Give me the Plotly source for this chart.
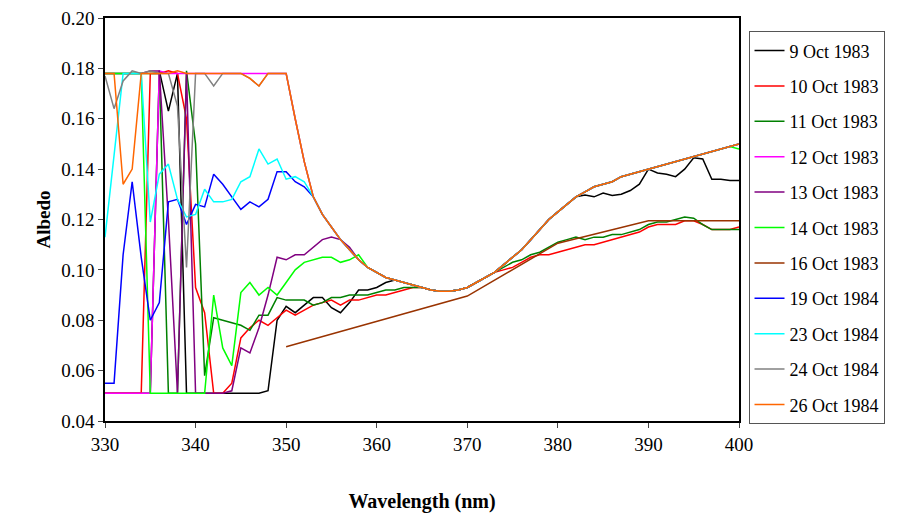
import plotly.graph_objects as go

wl = list(range(330, 401))

# shared curve 350-400 nm (clear-sky part, followed by most dates)
common = [0.178, 0.160, 0.143, 0.129, 0.122, 0.117, 0.112, 0.108, 0.104, 0.101,
          0.099, 0.097, 0.096, 0.095, 0.094, 0.093, 0.092, 0.0915, 0.0915, 0.092,
          0.093, 0.095, 0.097, 0.099, 0.102, 0.105, 0.108, 0.112, 0.116, 0.120,
          0.123, 0.126, 0.129, 0.131, 0.133, 0.134, 0.135, 0.137, 0.138, 0.139,
          0.140, 0.141, 0.142, 0.143, 0.144, 0.145, 0.146, 0.147, 0.148, 0.149, 0.150]

oct09 = ([0.051, 0.051, 0.051, 0.051, 0.051, 0.051, 0.179, 0.163, 0.178, 0.051,
          0.051, 0.051, 0.051, 0.051, 0.051, 0.051, 0.051, 0.051, 0.052, 0.080,
          0.0855, 0.083, 0.086, 0.089, 0.089, 0.085, 0.083, 0.087, 0.092, 0.092,
          0.093, 0.095, 0.096]
         + common[13:33]
         + [0.1297, 0.129, 0.1305, 0.1295, 0.130, 0.1315, 0.134, 0.140, 0.1385, 0.138,
            0.137, 0.140, 0.1445, 0.144, 0.136, 0.136, 0.1355, 0.1355])
oct10 = [0.051, 0.051, 0.051, 0.051, 0.051, 0.178, 0.178, 0.179, 0.178, 0.160,
         0.093, 0.083, 0.051, 0.051, 0.055, 0.073, 0.077, 0.080, 0.078, 0.081,
         0.084, 0.082, 0.084, 0.086, 0.087, 0.088, 0.086, 0.088, 0.088, 0.089,
         0.090, 0.090, 0.091, 0.092, 0.093, 0.093, 0.092, 0.0915, 0.0915, 0.092,
         0.093, 0.095, 0.097, 0.099, 0.100, 0.101, 0.103, 0.105, 0.106, 0.106,
         0.107, 0.108, 0.109, 0.110, 0.110, 0.111, 0.112, 0.113, 0.114, 0.115,
         0.117, 0.118, 0.118, 0.118, 0.1195, 0.1195, 0.118, 0.116, 0.116, 0.116, 0.117]
oct11 = [0.178, 0.178, 0.178, 0.178, 0.178, 0.178, 0.178, 0.051, 0.051, 0.179,
         0.150, 0.058, 0.081, 0.080, 0.079, 0.078, 0.076, 0.082, 0.082, 0.089,
         0.088, 0.088, 0.088, 0.086, 0.087, 0.089, 0.089, 0.090, 0.090, 0.090,
         0.091, 0.092, 0.092, 0.093, 0.093, 0.093, 0.092, 0.0915, 0.0915, 0.092,
         0.093, 0.095, 0.097, 0.099, 0.101, 0.103, 0.104, 0.106, 0.107, 0.109,
         0.111, 0.112, 0.113, 0.112, 0.113, 0.113, 0.114, 0.114, 0.115, 0.116,
         0.118, 0.119, 0.119, 0.120, 0.121, 0.1205, 0.118, 0.116, 0.116, 0.116, 0.116]
oct12 = ([0.051, 0.051, 0.051, 0.051, 0.051, 0.051, 0.179, 0.178, 0.178, 0.178,
          0.178, 0.178, 0.178, 0.178, 0.178, 0.178, 0.178, 0.178, 0.178, 0.178]
         + common)
oct13 = ([0.178, 0.178, 0.178, 0.178, 0.178, 0.179, 0.179, 0.120, 0.051, 0.178,
          0.051, 0.051, 0.051, 0.051, 0.052, 0.069, 0.067, 0.077, 0.090, 0.105,
          0.104, 0.106, 0.106, 0.109, 0.112, 0.113, 0.112, 0.109]
         + common[8:])
oct14 = ([0.178, 0.178, 0.178, 0.178, 0.178, 0.051, 0.051, 0.051, 0.051, 0.051,
          0.051, 0.051, 0.090, 0.069, 0.062, 0.091, 0.095, 0.090, 0.093, 0.090,
          0.095, 0.100, 0.103, 0.104, 0.105, 0.105, 0.103, 0.104, 0.106]
         + common[9:50] + [0.148])
oct16_wl = [350, 370, 380, 390, 400]
oct16 = [0.0695, 0.0896, 0.1106, 0.1195, 0.1195]
oct19 = ([0.055, 0.055, 0.106, 0.135, 0.105, 0.080, 0.087, 0.127, 0.128, 0.118,
          0.126, 0.125, 0.138, 0.134, 0.129, 0.124, 0.127, 0.125, 0.128, 0.139,
          0.139, 0.135, 0.133]
         + common[3:])
oct23 = ([0.113, 0.145, 0.178, 0.178, 0.178, 0.119, 0.138, 0.142, 0.128, 0.121,
          0.122, 0.132, 0.127, 0.127, 0.128, 0.135, 0.137, 0.148, 0.142, 0.144,
          0.136, 0.137, 0.135]
         + common[3:])
oct24 = ([0.177, 0.164, 0.175, 0.179, 0.178, 0.179, 0.178, 0.178, 0.165, 0.101,
          0.178, 0.178, 0.173, 0.178, 0.178, 0.178, 0.176, 0.173, 0.178, 0.178]
         + common)
oct26 = ([0.178, 0.178, 0.134, 0.140, 0.178, 0.178, 0.178, 0.178, 0.179, 0.178,
          0.178, 0.178, 0.178, 0.178, 0.178, 0.178, 0.176, 0.173, 0.178, 0.178]
         + common)

series = [
    ("9 Oct 1983", wl, oct09, "#000000"),
    ("10 Oct 1983", wl, oct10, "#ff0000"),
    ("11 Oct 1983", wl, oct11, "#008000"),
    ("12 Oct 1983", wl, oct12, "#ff00ff"),
    ("13 Oct 1983", wl, oct13, "#800080"),
    ("14 Oct 1983", wl, oct14, "#00ff00"),
    ("16 Oct 1983", oct16_wl, oct16, "#993300"),
    ("19 Oct 1984", wl, oct19, "#0000ff"),
    ("23 Oct 1984", wl, oct23, "#00ffff"),
    ("24 Oct 1984", wl, oct24, "#808080"),
    ("26 Oct 1984", wl, oct26, "#ff6600"),
]

fig = go.Figure()
for name, x, y, col in series:
    fig.add_trace(go.Scatter(x=x, y=y, name=name, mode="lines", legendgroup=name,
                             line=dict(color=col, width=1.5)))

font = "Liberation Serif, Times New Roman, serif"
# page body adds an 8px offset, so margins are shifted to compensate
fig.update_layout(
    width=911, height=516,
    margin=dict(l=97, r=180, t=10, b=103, autoexpand=False),
    plot_bgcolor="white", paper_bgcolor="white",
    font=dict(family=font, size=19, color="black"),
    showlegend=True,
    legend=dict(x=1.015, y=0.967, xanchor="left", yanchor="top",
                bordercolor="#555555", borderwidth=1, tracegroupgap=9,
                font=dict(size=18, family=font)),
)
fig.update_xaxes(range=[330, 400], dtick=10, showgrid=False, showline=True,
                 linecolor="black", linewidth=1.5, mirror=True, ticks="outside",
                 ticklen=5, ticklabeloverflow="allow",
                 title=dict(text="<b>Wavelength (nm)</b>", standoff=40,
                            font=dict(size=20)))
fig.update_yaxes(range=[0.04, 0.20], dtick=0.02, tickformat=".2f", showgrid=False,
                 showline=True, linecolor="black", linewidth=1.5, mirror=True,
                 ticks="outside", ticklen=5, ticklabeloverflow="allow",
                 title=dict(text="<b>Albedo</b>", standoff=6, font=dict(size=19)))

fig.write_html("out.html")
